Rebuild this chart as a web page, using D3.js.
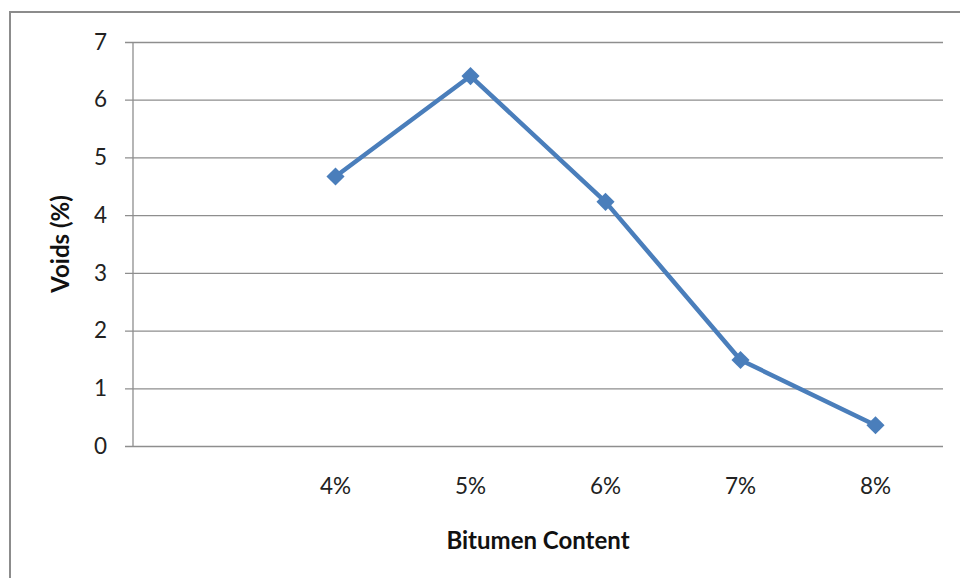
<!DOCTYPE html>
<html>
<head>
<meta charset="utf-8">
<script src="https://cdn.jsdelivr.net/npm/d3@7"></script>
<style>
  html, body { margin: 0; padding: 0; background: #fff; }
  svg { display: block; font-family: Lato, "Open Sans", sans-serif; }
</style>
</head>
<body>
<svg id="chart" width="960" height="578"></svg>
<script>
// Bitumen content (first slot is an empty category) and measured air voids
const categories = ["", "4%", "5%", "6%", "7%", "8%"];
const voids = [null, 4.67, 6.41, 4.23, 1.49, 0.36];
const yTicks = [0, 1, 2, 3, 4, 5, 6, 7];
const xTitle = "Bitumen Content";
const yTitle = "Voids (%)";

const svg = d3.select("#chart");
const plot = { left: 133, right: 943, top: 42, bottom: 446 };

// outer chart frame
svg.append("rect")
  .attr("x", 10).attr("y", 12)
  .attr("width", 1000).attr("height", 1000)
  .attr("fill", "#fff")
  .attr("stroke", "#8c8c8c").attr("stroke-width", 2);

const x = d3.scaleBand()
  .domain(categories.map((c, i) => i))
  .range([plot.left, plot.right]);

const y = d3.scaleLinear()
  .domain([0, 7])
  .range([plot.bottom, plot.top]);

// horizontal gridlines with tick marks, y axis labels
const yAxis = d3.axisLeft(y)
  .tickValues(yTicks)
  .tickSize(-(plot.right - plot.left))
  .tickPadding(0)
  .tickFormat(d3.format("d"));

const gy = svg.append("g")
  .attr("transform", `translate(${plot.left},0)`)
  .call(yAxis);
gy.select(".domain").remove();
gy.selectAll(".tick line")
  .attr("x1", -8)
  .attr("stroke", "#8e8e8e").attr("stroke-width", 1.3);
gy.selectAll(".tick text")
  .attr("x", -26)
  .attr("font-size", 22.5)
  .attr("font-family", "Lato, sans-serif")
  .attr("fill", "#222");

// vertical axis line
svg.append("line")
  .attr("x1", plot.left).attr("x2", plot.left)
  .attr("y1", plot.top).attr("y2", plot.bottom)
  .attr("stroke", "#8e8e8e").attr("stroke-width", 1.3);

// category labels
const xAxis = d3.axisBottom(x)
  .tickSize(0)
  .tickPadding(32)
  .tickFormat(i => categories[i]);
const gx = svg.append("g")
  .attr("transform", `translate(0,${plot.bottom})`)
  .call(xAxis);
gx.select(".domain").remove();
gx.selectAll(".tick text")
  .attr("font-size", 22.5)
  .attr("font-family", "Lato, sans-serif")
  .attr("fill", "#222");

// series line
const pts = categories.map((c, i) => ({ i, v: voids[i] })).filter(d => d.v != null);
const cx = d => x(d.i) + x.bandwidth() / 2;

svg.append("path")
  .datum(pts)
  .attr("fill", "none")
  .attr("stroke", "#4a7ebb")
  .attr("stroke-width", 4.5)
  .attr("stroke-linejoin", "round")
  .attr("d", d3.line().x(cx).y(d => y(d.v)));

// diamond markers
svg.append("g").selectAll("path")
  .data(pts)
  .join("path")
  .attr("transform", d => `translate(${cx(d)},${y(d.v)})`)
  .attr("d", d3.symbol(d3.symbolDiamond2, 210))
  .attr("fill", "#4a7ebb");

// axis titles
svg.append("text")
  .attr("x", (plot.left + plot.right) / 2)
  .attr("y", 549)
  .attr("text-anchor", "middle")
  .attr("font-size", 24)
  .attr("font-weight", "bold")
  .attr("fill", "#111")
  .text(xTitle);

svg.append("text")
  .attr("transform", `translate(69,${(plot.top + plot.bottom) / 2}) rotate(-90)`)
  .attr("text-anchor", "middle")
  .attr("font-size", 24)
  .attr("font-weight", "bold")
  .attr("fill", "#111")
  .text(yTitle);
</script>
</body>
</html>
